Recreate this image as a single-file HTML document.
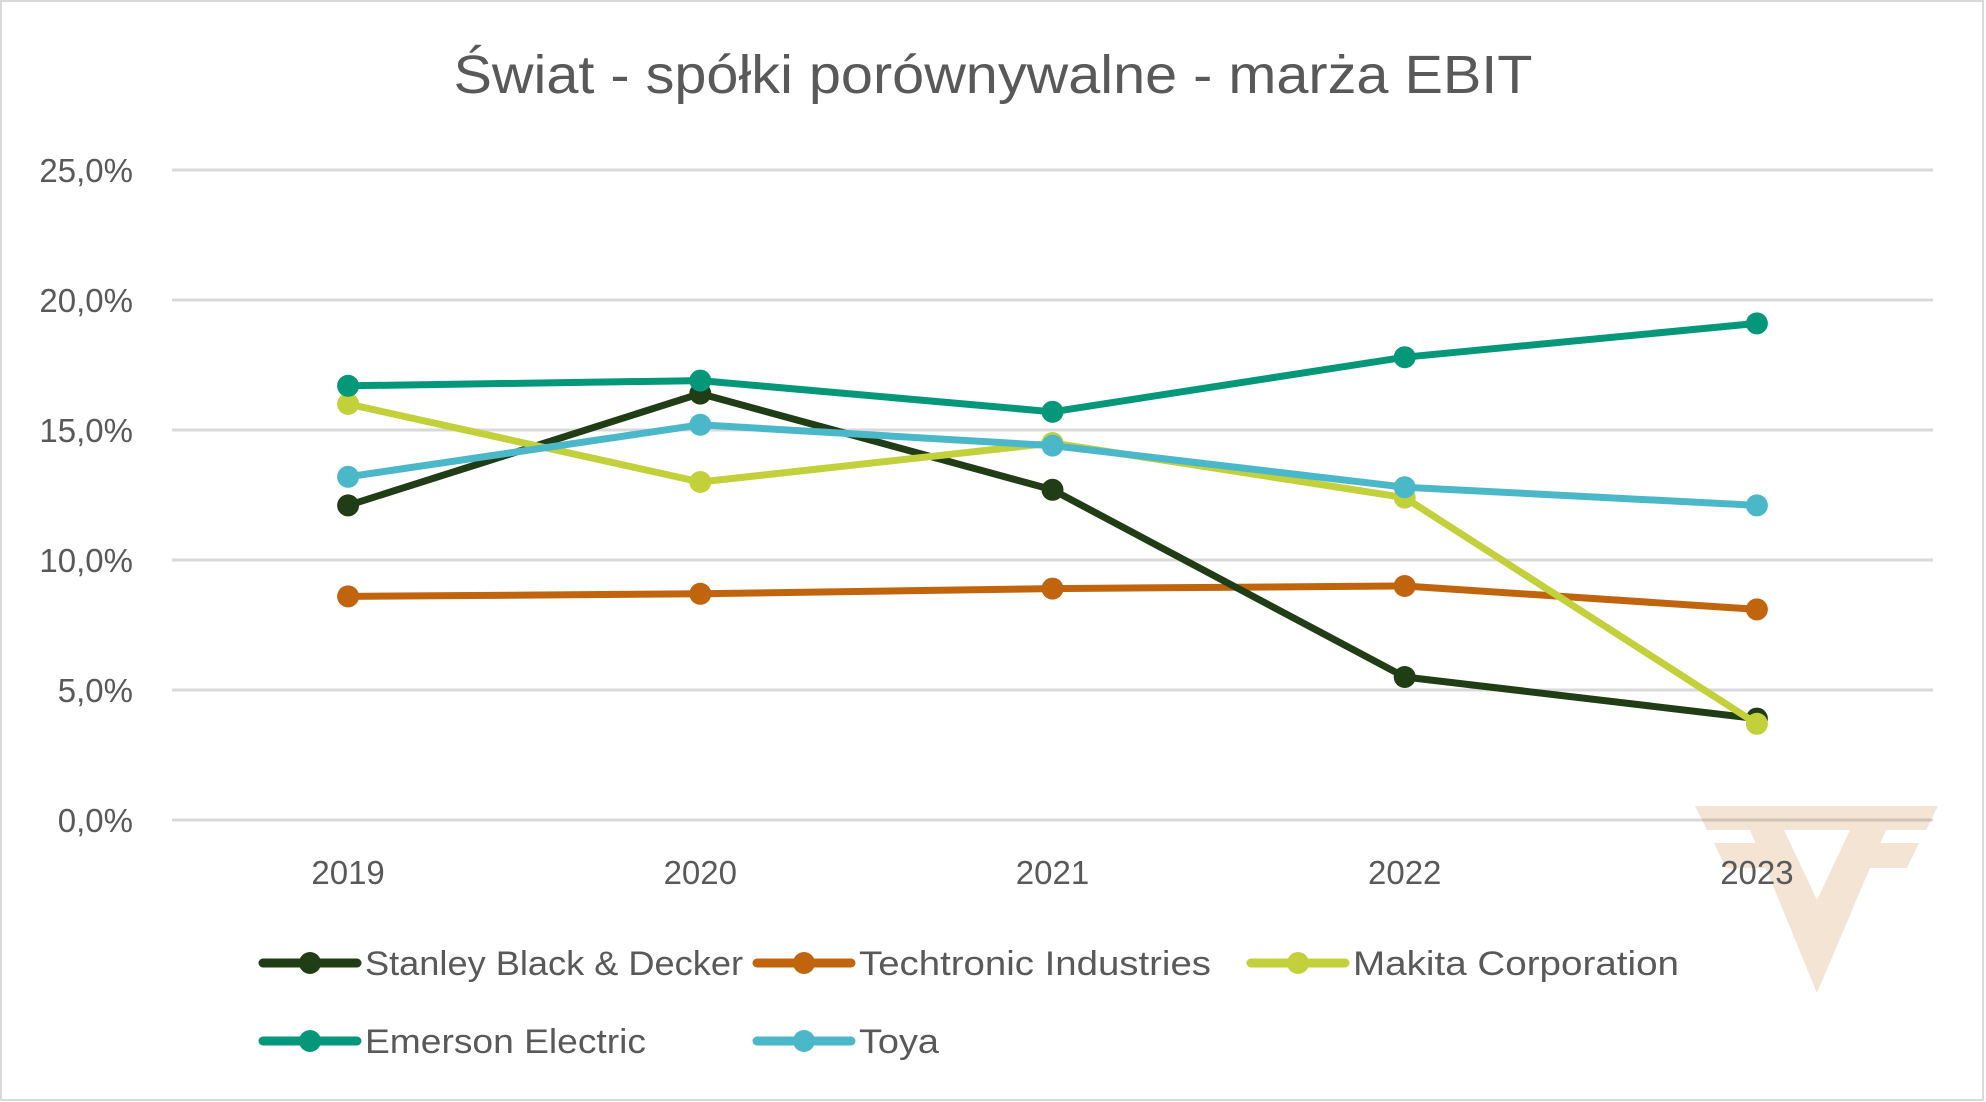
<!DOCTYPE html>
<html><head><meta charset="utf-8"><style>
html,body{margin:0;padding:0;background:#fff}
svg{display:block;font-family:"Liberation Sans",sans-serif}
</style></head><body>
<svg id="chart" width="1986" height="1102" viewBox="0 0 1986 1102">
<rect x="1" y="1" width="1982" height="1099" fill="#fff" stroke="#d9d9d9" stroke-width="2"/>
<text x="993" y="93" text-anchor="middle" font-size="54" fill="#595959" textLength="1079" lengthAdjust="spacingAndGlyphs">Świat - spółki porównywalne - marża EBIT</text>
<g id="grid"></g>
<g id="watermark" fill="#f3e4d4" style="mix-blend-mode:multiply">
<polygon points="1695,806 1938,806 1926,830 1707,830"/>
<polygon fill-rule="evenodd" points="1750,830 1817,993 1886,830 1850,830 1817,900 1784,830"/>
<polygon points="1714,843 1762,843 1772,868 1726,868"/>
<polygon points="1872,843 1919,843 1907,868 1862,868"/>
</g>
<g id="xlabels"></g>
<g id="series"></g>
<g id="legend"></g>
</svg>
<script>
const categories = ["2019","2020","2021","2022","2023"];
const yTicks = [0,5,10,15,20,25];
const yTickLabels = ["0,0%","5,0%","10,0%","15,0%","20,0%","25,0%"];
const seriesNames = ["Stanley Black & Decker","Techtronic Industries","Makita Corporation","Emerson Electric","Toya"];
const stanley = [12.1,16.4,12.7,5.5,3.9];
const techtronic = [8.6,8.7,8.9,9.0,8.1];
const makita = [16.0,13.0,14.5,12.4,3.7];
const emerson = [16.7,16.9,15.7,17.8,19.1];
const toya = [13.2,15.2,14.4,12.8,12.1];

const NS = "http://www.w3.org/2000/svg";
const colors = ["#203d16","#c0650d","#c2d13b","#05977a","#4bb8c9"];
const allSeries = [stanley, techtronic, makita, emerson, toya];
const drawOrder = [1,0,2,4,3];
const X0 = 172, X1 = 1933, Y0 = 820, Y25 = 170;
function xs(i){ return X0 + (X1-X0)/categories.length*(i+0.5); }
function ys(v){ return Y0 - (v/25)*(Y0-Y25); }
function mk(tag, attrs, parent){ const e=document.createElementNS(NS,tag); for(const k in attrs) e.setAttribute(k,attrs[k]); parent.appendChild(e); return e; }

const grid = document.getElementById('grid');
yTicks.forEach((t,i)=>{
  const l = mk('line',{x1:X0,x2:X1,y1:ys(t),y2:ys(t),stroke:'#d9d9d9','stroke-width':3},grid);
  
  
  const tx = mk('text',{x:133,y:ys(t)+12,'text-anchor':'end','font-size':33,fill:'#595959'},grid);
  tx.textContent = yTickLabels[i];
  
  
});
const xl = document.getElementById('xlabels');
categories.forEach((c,i)=>{
  const tx = mk('text',{x:xs(i),y:884,'text-anchor':'middle','font-size':33,fill:'#595959'},xl);
  tx.textContent = c;
  
  
});

const sg = document.getElementById('series');
drawOrder.forEach(si=>{
  const d = allSeries[si];
  const g = mk('g',{},sg);
  
  
  const pts = d.map((v,i)=>xs(i)+','+ys(v)).join(' ');
  const pl = mk('polyline',{points:pts,fill:'none',stroke:colors[si],'stroke-width':7,'stroke-linejoin':'round','stroke-linecap':'round'},g);
  
  
  d.forEach((v,i)=>{
    const c = mk('circle',{cx:xs(i),cy:ys(v),r:11,fill:colors[si]},g);
    
    
  });
});

const lg = document.getElementById('legend');
const legPos = [[263,963],[757,963],[1251,963],[263,1041],[757,1041]];
const legLen = [378,352,326,281,80];
seriesNames.forEach((n,i)=>{
  const [x,y] = legPos[i];
  const g = mk('g',{},lg);
  
  
  mk('line',{x1:x,x2:x+94,y1:y,y2:y,stroke:colors[i],'stroke-width':9,'stroke-linecap':'round'},g);
  mk('circle',{cx:x+47,cy:y,r:11,fill:colors[i]},g);
  const t = mk('text',{x:x+102,y:y+12,'font-size':34,fill:'#595959',textLength:legLen[i],lengthAdjust:'spacingAndGlyphs'},g);
  t.textContent = n;
});
</script>
</body></html>
